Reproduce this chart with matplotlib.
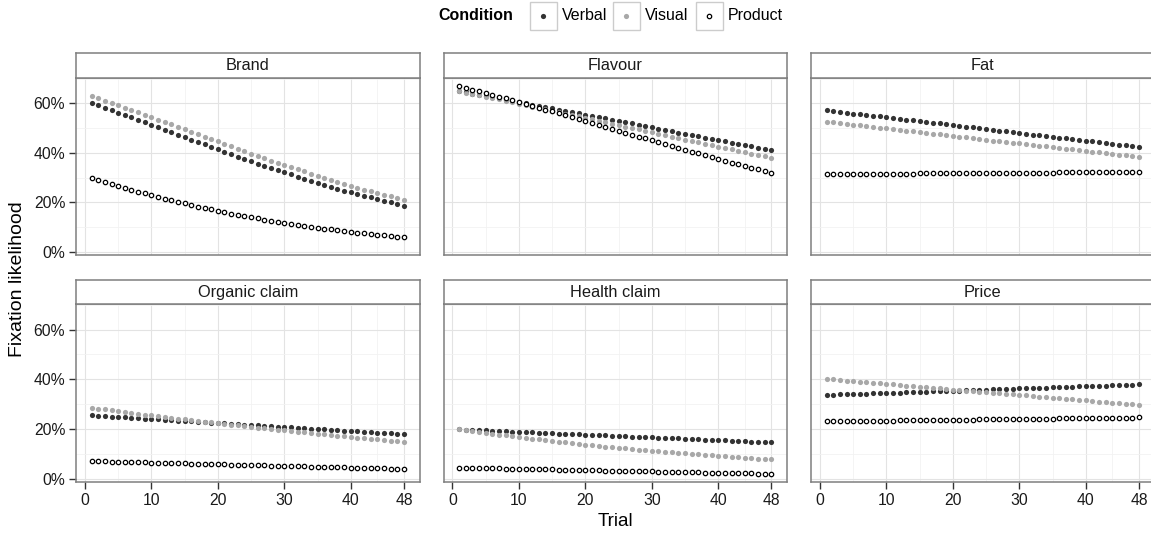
import numpy as np
import matplotlib.pyplot as plt
from matplotlib.patches import Rectangle

plt.rcParams['font.family'] = ['Liberation Sans', 'DejaVu Sans']

# Данные: вероятность фиксации (%) по пробам 1..48
trial = list(range(1, 49))
attributes = ['Brand', 'Flavour', 'Fat', 'Organic claim', 'Health claim', 'Price']
conditions = ['Verbal', 'Visual', 'Product']

brand_verbal = [60.2, 59.2, 58.3, 57.3, 56.3, 55.3, 54.3, 53.3, 52.3, 51.3, 50.3, 49.3, 48.3, 47.3, 46.3, 45.3,
                44.3, 43.4, 42.4, 41.4, 40.4, 39.5, 38.5, 37.6, 36.6, 35.7, 34.8, 33.9, 33.0, 32.1, 31.3, 30.4,
                29.6, 28.7, 27.9, 27.1, 26.3, 25.6, 24.8, 24.1, 23.3, 22.7, 22.0, 21.3, 20.6, 20.0, 19.3, 18.7]
brand_visual = [63.0, 62.1, 61.1, 60.2, 59.3, 58.3, 57.3, 56.4, 55.4, 54.4, 53.4, 52.4, 51.5, 50.5, 49.5, 48.5,
                47.5, 46.5, 45.5, 44.6, 43.6, 42.6, 41.7, 40.7, 39.7, 38.8, 37.9, 36.9, 36.0, 35.1, 34.2, 33.4,
                32.5, 31.6, 30.8, 29.9, 29.1, 28.3, 27.5, 26.7, 26.0, 25.2, 24.5, 23.8, 23.0, 22.4, 21.7, 21.0]
brand_product = [30.0, 29.2, 28.4, 27.5, 26.7, 25.9, 25.2, 24.4, 23.7, 22.9, 22.2, 21.5, 20.9, 20.2, 19.6, 18.9,
                 18.3, 17.7, 17.2, 16.6, 16.0, 15.5, 15.0, 14.5, 14.0, 13.5, 13.0, 12.6, 12.1, 11.7, 11.3, 10.9,
                 10.5, 10.1, 9.8, 9.4, 9.1, 8.7, 8.4, 8.1, 7.8, 7.5, 7.3, 7.0, 6.7, 6.5, 6.2, 6.0]

flavour_verbal = [64.9, 64.4, 63.9, 63.4, 62.9, 62.5, 62.0, 61.5, 61.0, 60.5, 60.0, 59.5, 59.0, 58.5, 58.0, 57.5,
                  57.0, 56.5, 56.0, 55.5, 55.0, 54.4, 53.9, 53.4, 52.9, 52.4, 51.9, 51.3, 50.8, 50.3, 49.8, 49.3,
                  48.8, 48.2, 47.7, 47.2, 46.7, 46.2, 45.7, 45.1, 44.6, 44.1, 43.6, 43.1, 42.6, 42.1, 41.6, 41.1]
flavour_visual = [64.8, 64.3, 63.7, 63.2, 62.7, 62.1, 61.6, 61.0, 60.4, 59.9, 59.3, 58.7, 58.2, 57.6, 57.0, 56.5,
                  55.9, 55.3, 54.7, 54.1, 53.6, 53.0, 52.4, 51.8, 51.2, 50.6, 50.1, 49.5, 48.9, 48.3, 47.7, 47.1,
                  46.6, 46.0, 45.4, 44.8, 44.2, 43.7, 43.1, 42.5, 41.9, 41.4, 40.8, 40.2, 39.7, 39.1, 38.6, 38.0]
flavour_product = [67.0, 66.3, 65.6, 64.9, 64.2, 63.5, 62.7, 62.0, 61.3, 60.5, 59.8, 59.0, 58.3, 57.5, 56.8, 56.0,
                   55.2, 54.4, 53.7, 52.9, 52.1, 51.3, 50.5, 49.8, 49.0, 48.2, 47.4, 46.6, 45.9, 45.1, 44.3, 43.6,
                   42.8, 42.0, 41.3, 40.5, 39.8, 39.0, 38.3, 37.6, 36.8, 36.1, 35.4, 34.7, 34.0, 33.3, 32.6, 31.9]

fat_verbal = [57.2, 56.9, 56.6, 56.3, 55.9, 55.6, 55.3, 55.0, 54.7, 54.4, 54.0, 53.7, 53.4, 53.1, 52.8, 52.5,
              52.2, 51.9, 51.5, 51.2, 50.9, 50.6, 50.3, 50.0, 49.6, 49.3, 49.0, 48.7, 48.4, 48.1, 47.8, 47.4,
              47.1, 46.8, 46.5, 46.2, 45.9, 45.6, 45.2, 44.9, 44.6, 44.3, 44.0, 43.7, 43.3, 43.0, 42.7, 42.4]
fat_visual = [52.6, 52.3, 52.0, 51.7, 51.4, 51.1, 50.8, 50.5, 50.2, 49.9, 49.6, 49.3, 49.0, 48.7, 48.4, 48.1,
              47.8, 47.5, 47.2, 46.9, 46.6, 46.3, 46.0, 45.7, 45.4, 45.0, 44.7, 44.4, 44.1, 43.8, 43.5, 43.2,
              42.9, 42.6, 42.3, 42.0, 41.7, 41.4, 41.1, 40.8, 40.5, 40.2, 39.9, 39.6, 39.3, 39.0, 38.7, 38.4]
fat_product = [31.4, 31.4, 31.4, 31.5, 31.5, 31.5, 31.5, 31.5, 31.6, 31.6, 31.6, 31.6, 31.6, 31.6, 31.7, 31.7,
               31.7, 31.7, 31.7, 31.8, 31.8, 31.8, 31.8, 31.8, 31.9, 31.9, 31.9, 31.9, 31.9, 31.9, 32.0, 32.0,
               32.0, 32.0, 32.0, 32.1, 32.1, 32.1, 32.1, 32.1, 32.2, 32.2, 32.2, 32.2, 32.2, 32.3, 32.3, 32.3]

organic_verbal = [25.5, 25.3, 25.2, 25.0, 24.9, 24.7, 24.5, 24.4, 24.2, 24.1, 23.9, 23.7, 23.6, 23.4, 23.3, 23.1,
                  22.9, 22.8, 22.6, 22.5, 22.3, 22.1, 22.0, 21.8, 21.7, 21.5, 21.3, 21.2, 21.0, 20.9, 20.7, 20.5,
                  20.4, 20.2, 20.1, 19.9, 19.7, 19.6, 19.4, 19.3, 19.1, 18.9, 18.8, 18.6, 18.5, 18.3, 18.1, 18.0]
organic_visual = [28.6, 28.2, 27.9, 27.5, 27.2, 26.9, 26.5, 26.2, 25.8, 25.5, 25.2, 24.9, 24.5, 24.2, 23.9, 23.6,
                  23.3, 23.0, 22.7, 22.3, 22.0, 21.7, 21.5, 21.2, 20.9, 20.6, 20.3, 20.0, 19.7, 19.5, 19.2, 18.9,
                  18.7, 18.4, 18.1, 17.9, 17.6, 17.4, 17.1, 16.9, 16.6, 16.4, 16.2, 15.9, 15.7, 15.4, 15.2, 15.0]
organic_product = [7.1, 7.0, 7.0, 6.9, 6.8, 6.8, 6.7, 6.6, 6.6, 6.5, 6.4, 6.4, 6.3, 6.2, 6.2, 6.1,
                   6.0, 6.0, 5.9, 5.8, 5.8, 5.7, 5.6, 5.6, 5.5, 5.4, 5.4, 5.3, 5.2, 5.2, 5.1, 5.0,
                   5.0, 4.9, 4.8, 4.8, 4.7, 4.6, 4.6, 4.5, 4.4, 4.4, 4.3, 4.2, 4.2, 4.1, 4.0, 4.0]

health_verbal = [19.9, 19.8, 19.7, 19.6, 19.5, 19.3, 19.2, 19.1, 19.0, 18.9, 18.8, 18.7, 18.6, 18.5, 18.4, 18.2,
                 18.1, 18.0, 17.9, 17.8, 17.7, 17.6, 17.5, 17.4, 17.2, 17.1, 17.0, 16.9, 16.8, 16.7, 16.6, 16.5,
                 16.4, 16.3, 16.2, 16.0, 15.9, 15.8, 15.7, 15.6, 15.5, 15.4, 15.3, 15.1, 15.0, 14.9, 14.8, 14.7]
health_visual = [19.9, 19.5, 19.2, 18.8, 18.5, 18.1, 17.8, 17.5, 17.1, 16.8, 16.5, 16.2, 15.9, 15.6, 15.3, 15.0,
                 14.7, 14.4, 14.1, 13.8, 13.6, 13.3, 13.0, 12.8, 12.5, 12.3, 12.0, 11.8, 11.6, 11.3, 11.1, 10.9,
                 10.7, 10.4, 10.2, 10.0, 9.8, 9.6, 9.4, 9.2, 9.0, 8.8, 8.7, 8.5, 8.3, 8.1, 8.0, 7.8]
health_product = [4.5, 4.4, 4.4, 4.3, 4.3, 4.2, 4.2, 4.1, 4.1, 4.0, 4.0, 3.9, 3.9, 3.8, 3.8, 3.7,
                  3.7, 3.6, 3.5, 3.5, 3.4, 3.4, 3.3, 3.3, 3.2, 3.2, 3.1, 3.1, 3.0, 3.0, 2.9, 2.9,
                  2.8, 2.8, 2.7, 2.6, 2.6, 2.5, 2.5, 2.4, 2.4, 2.3, 2.3, 2.2, 2.2, 2.1, 2.1, 2.0]

price_verbal = [33.7, 33.8, 33.9, 34.0, 34.1, 34.2, 34.2, 34.3, 34.4, 34.5, 34.6, 34.7, 34.8, 34.9, 35.0, 35.1,
                35.2, 35.3, 35.3, 35.4, 35.5, 35.6, 35.7, 35.8, 35.9, 36.0, 36.1, 36.2, 36.3, 36.4, 36.4, 36.5,
                36.6, 36.7, 36.8, 36.9, 37.0, 37.1, 37.2, 37.3, 37.4, 37.5, 37.5, 37.6, 37.7, 37.8, 37.9, 38.0]
price_visual = [40.2, 40.0, 39.8, 39.5, 39.3, 39.1, 38.9, 38.6, 38.4, 38.2, 38.0, 37.7, 37.5, 37.3, 37.1, 36.8,
                36.6, 36.4, 36.2, 35.9, 35.7, 35.5, 35.3, 35.1, 34.8, 34.6, 34.4, 34.2, 33.9, 33.7, 33.5, 33.3,
                33.0, 32.8, 32.6, 32.4, 32.2, 31.9, 31.7, 31.5, 31.3, 31.0, 30.8, 30.6, 30.4, 30.1, 29.9, 29.7]
price_product = [23.1, 23.1, 23.2, 23.2, 23.2, 23.3, 23.3, 23.3, 23.4, 23.4, 23.4, 23.5, 23.5, 23.5, 23.6, 23.6,
                 23.6, 23.7, 23.7, 23.7, 23.8, 23.8, 23.8, 23.9, 23.9, 23.9, 24.0, 24.0, 24.0, 24.1, 24.1, 24.1,
                 24.2, 24.2, 24.2, 24.3, 24.3, 24.3, 24.4, 24.4, 24.4, 24.5, 24.5, 24.5, 24.6, 24.6, 24.6, 24.7]

x_ticks = [0, 10, 20, 30, 40, 48]
y_ticks = [0, 20, 40, 60]

series = {
    'Brand': [brand_verbal, brand_visual, brand_product],
    'Flavour': [flavour_verbal, flavour_visual, flavour_product],
    'Fat': [fat_verbal, fat_visual, fat_product],
    'Organic claim': [organic_verbal, organic_visual, organic_product],
    'Health claim': [health_verbal, health_visual, health_product],
    'Price': [price_verbal, price_visual, price_product],
}

# стили точек для условий
styles = {
    'Verbal': dict(marker='o', s=14, color='#333333', linewidths=0),
    'Visual': dict(marker='o', s=14, color='#a8a8a8', linewidths=0),
    'Product': dict(marker='o', s=10, facecolors='white', edgecolors='black', linewidths=0.9),
}

W, H = 1151, 533
fig = plt.figure(figsize=(W / 100, H / 100), dpi=100)


def px_box(x0, y0, x1, y1):
    return [x0 / W, 1 - y1 / H, (x1 - x0) / W, (y1 - y0) / H]


col_left = [76, 443.5, 811]
col_w = 343.5
rows = [(53, 78, 255), (280, 304, 482)]
border = '#7f7f7f'

for k, name in enumerate(attributes):
    r, c = divmod(k, 3)
    s_top, p_top, p_bot = rows[r]
    x0 = col_left[c]
    ax = fig.add_axes(px_box(x0, p_top, x0 + col_w, p_bot))
    ax.set_xlim(1 - 2.35, 48 + 2.35)
    ax.set_ylim(-1.25, 70.25)
    ax.set_xticks(x_ticks)
    ax.set_xticks([5, 15, 25, 35, 44], minor=True)
    ax.set_yticks(y_ticks)
    ax.set_yticks([10, 30, 50, 70], minor=True)
    ax.grid(True, which='major', color='#e3e3e3', linewidth=0.8)
    ax.grid(True, which='minor', color='#f2f2f2', linewidth=0.6)
    ax.set_axisbelow(True)
    for sp in ax.spines.values():
        sp.set_color(border)
        sp.set_linewidth(1.1)
    ax.tick_params(which='minor', length=0)
    ax.tick_params(which='major', length=4.8, width=1, color='#333333',
                   labelsize=11.3, labelcolor='#1a1a1a', pad=3)
    if c == 0:
        ax.set_yticklabels([f'{v}%' for v in y_ticks])
    else:
        ax.tick_params(axis='y', left=False, labelleft=False)
    if r == 1:
        ax.set_xticklabels([str(v) for v in x_ticks])
    else:
        ax.tick_params(axis='x', bottom=False, labelbottom=False)

    for cond, vals in zip(conditions, series[name]):
        ax.scatter(trial, vals, zorder=3, clip_on=False, **styles[cond])

    # полоска с названием панели
    sax = fig.add_axes(px_box(x0, s_top, x0 + col_w, p_top))
    sax.set_xticks([])
    sax.set_yticks([])
    for sp in sax.spines.values():
        sp.set_color(border)
        sp.set_linewidth(1.1)
    sax.text(0.5, 0.48, name, ha='center', va='center', fontsize=11.8, color='#1a1a1a',
             transform=sax.transAxes)

fig.text(615 / W, 1 - 526.5 / H, 'Trial', ha='center', va='baseline', fontsize=13.5)
fig.text(17.5 / W, 1 - 279 / H, 'Fixation likelihood', ha='center', va='center',
         rotation=90, fontsize=14)

# легенда сверху
lax = fig.add_axes([0, 0, 1, 1], zorder=-1)
lax.set_xlim(0, W)
lax.set_ylim(H, 0)
lax.axis('off')
lax.text(513, 15.5, 'Condition', ha='right', va='center', fontsize=11.5, fontweight='bold')
key_x = [530, 613, 696]
for cond, kx in zip(conditions, key_x):
    lax.add_patch(Rectangle((kx, 1.5), 27, 28, facecolor='white', edgecolor='#cccccc', linewidth=1))
    lax.scatter([kx + 13.5], [15.5], **styles[cond])
    lax.text(kx + 32, 15.5, cond, ha='left', va='center', fontsize=11.5)

fig.savefig('out.png', dpi=100)
